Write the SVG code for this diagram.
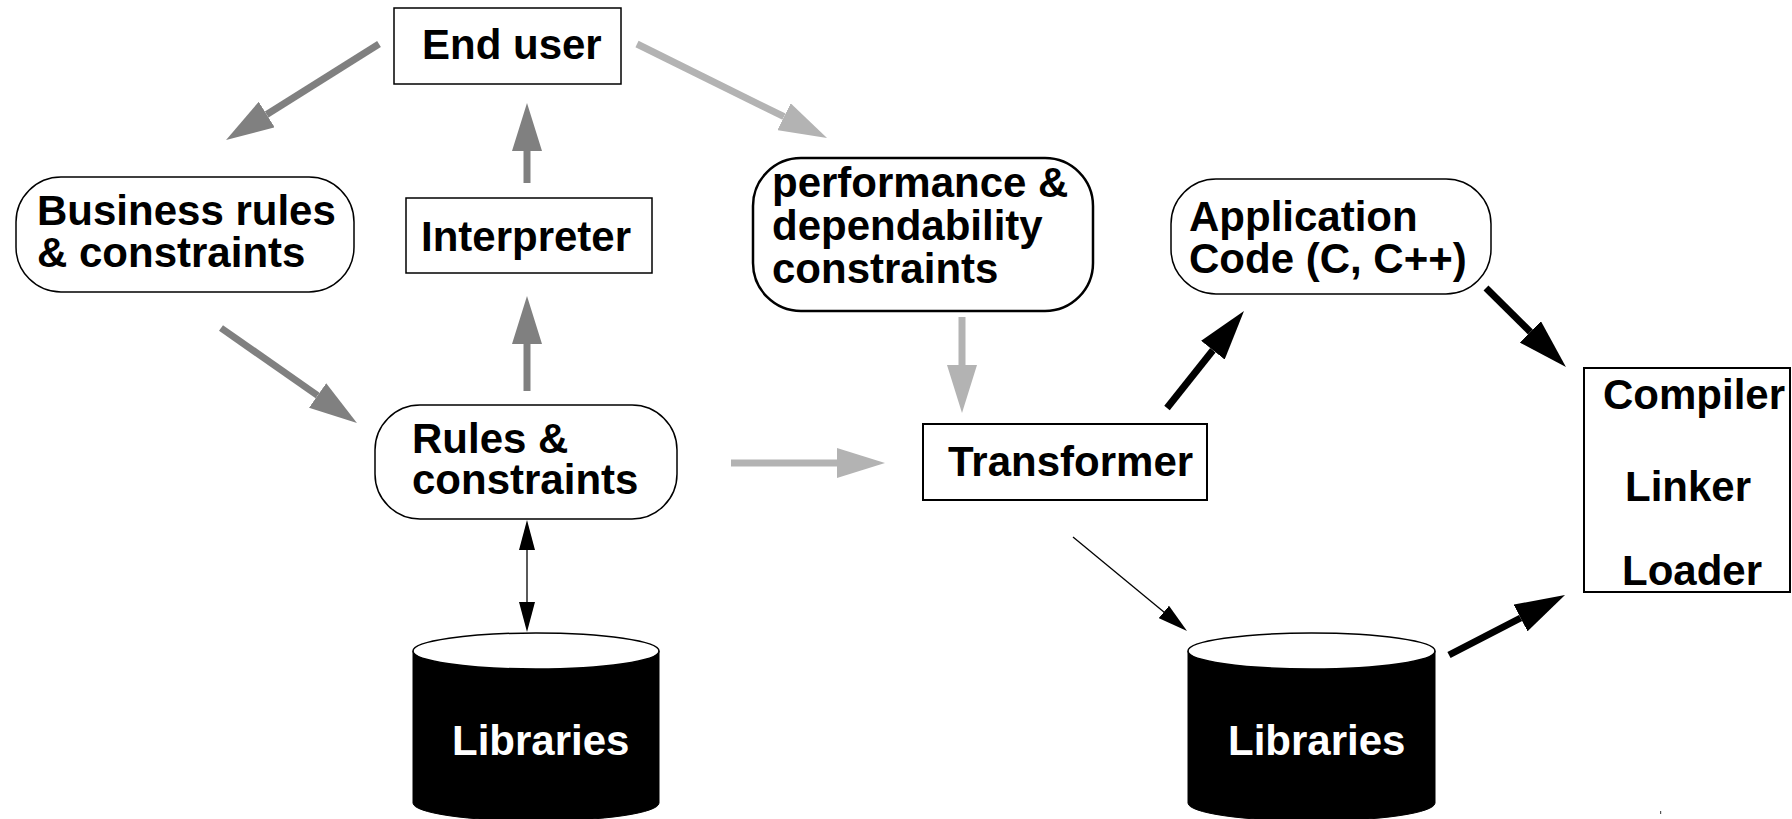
<svg xmlns="http://www.w3.org/2000/svg" width="1792" height="819" viewBox="0 0 1792 819">
<style>
text{font-family:"Liberation Sans",Arial,sans-serif;font-weight:bold;font-size:42px;fill:#000}
.box{fill:#fff;stroke:#000;stroke-width:1.5}
.lib text{fill:#fff}
.g{stroke:#808080;stroke-width:7;fill:none}
.lg{stroke:#b3b3b3;stroke-width:7;fill:none}
.bk{stroke:#000;stroke-width:7;fill:none}
.tn{stroke:#000;stroke-width:1.3;fill:none}
</style>
<defs>
<marker id="hg" markerUnits="userSpaceOnUse" markerWidth="48" markerHeight="30" viewBox="0 0 48 30" refX="0" refY="15" orient="auto"><path d="M0,0 L48,15 L0,30 z" fill="#808080"/></marker>
<marker id="hlg" markerUnits="userSpaceOnUse" markerWidth="48" markerHeight="30" viewBox="0 0 48 30" refX="0" refY="15" orient="auto"><path d="M0,0 L48,15 L0,30 z" fill="#b3b3b3"/></marker>
<marker id="hbk" markerUnits="userSpaceOnUse" markerWidth="50" markerHeight="30" viewBox="0 0 50 30" refX="0" refY="15" orient="auto"><path d="M0,0 L50,15 L0,30 z" fill="#000"/></marker>
<marker id="htn" markerUnits="userSpaceOnUse" markerWidth="30" markerHeight="16" viewBox="0 0 30 16" refX="0" refY="8" orient="auto-start-reverse"><path d="M0,0 L30,8 L0,16 z" fill="#000"/></marker>
</defs>

<g id="connectors">
<line class="g" x1="379" y1="44" x2="266.7" y2="114.5" marker-end="url(#hg)"/>
<line class="g" x1="221" y1="328" x2="317.6" y2="395.5" marker-end="url(#hg)"/>
<line class="g" x1="527" y1="391" x2="527" y2="344" marker-end="url(#hg)"/>
<line class="g" x1="527" y1="183" x2="527" y2="151" marker-end="url(#hg)"/>
<line class="lg" x1="637" y1="44" x2="784" y2="116.7" marker-end="url(#hlg)"/>
<line class="lg" x1="962" y1="317" x2="962" y2="365" marker-end="url(#hlg)"/>
<line class="lg" x1="731" y1="463" x2="837" y2="463" marker-end="url(#hlg)"/>
<line class="tn" x1="527" y1="550" x2="527" y2="602" marker-start="url(#htn)" marker-end="url(#htn)"/>
<line class="tn" x1="1073" y1="537" x2="1163.9" y2="611.9" marker-end="url(#htn)"/>
<line class="bk" x1="1167" y1="408" x2="1212.9" y2="350.2" marker-end="url(#hbk)"/>
<line class="bk" x1="1486" y1="288" x2="1530.4" y2="331.9" marker-end="url(#hbk)"/>
<line class="bk" x1="1449" y1="655" x2="1520.6" y2="618" marker-end="url(#hbk)"/>
</g>

<g id="end-user">
<rect class="box" x="394" y="8" width="227" height="76"/>
<text x="422" y="59">End user</text>
</g>

<g id="business-rules">
<rect class="box" x="16" y="177" width="338" height="115" rx="45" ry="45"/>
<text x="37" y="225">Business rules</text>
<text x="37" y="267">&amp; constraints</text>
</g>

<g id="interpreter">
<rect class="box" x="406" y="198" width="246" height="75"/>
<text x="421" y="251">Interpreter</text>
</g>

<g id="performance">
<rect class="box" x="753" y="158" width="340" height="153" rx="48" ry="48" style="stroke-width:2.5"/>
<text x="772" y="197">performance &amp;</text>
<text x="772" y="240">dependability</text>
<text x="772" y="283">constraints</text>
</g>

<g id="application">
<rect class="box" x="1171" y="179" width="320" height="115" rx="45" ry="45"/>
<text x="1189" y="231">Application</text>
<text x="1189" y="273">Code (C, C++)</text>
</g>

<g id="rules">
<rect class="box" x="375" y="405" width="302" height="114" rx="45" ry="45"/>
<text x="412" y="453">Rules &amp;</text>
<text x="412" y="494">constraints</text>
</g>

<g id="transformer">
<rect class="box" x="923" y="424" width="284" height="76" style="stroke-width:2"/>
<text x="948" y="476">Transformer</text>
</g>

<g id="compiler">
<rect class="box" x="1584" y="368" width="206" height="224" style="stroke-width:2"/>
<text x="1603" y="409">Compiler</text>
<text x="1625" y="501">Linker</text>
<text x="1622" y="585">Loader</text>
</g>

<g id="libraries-left" class="lib">
<path d="M413,651 L413,803 A123,18 0 0 0 659,803 L659,651 z" fill="#000" stroke="#000"/>
<ellipse cx="536" cy="651" rx="123" ry="18" fill="#fff" stroke="#000" stroke-width="1.5"/>
<text x="452" y="755">Libraries</text>
</g>

<g id="libraries-right" class="lib">
<path d="M1188,651 L1188,803 A123.5,18 0 0 0 1435,803 L1435,651 z" fill="#000" stroke="#000"/>
<ellipse cx="1311.5" cy="651" rx="123.5" ry="18" fill="#fff" stroke="#000" stroke-width="1.5"/>
<text x="1228" y="755">Libraries</text>
</g>

<rect x="1660" y="811" width="1.2" height="3" fill="#555"/>
</svg>
